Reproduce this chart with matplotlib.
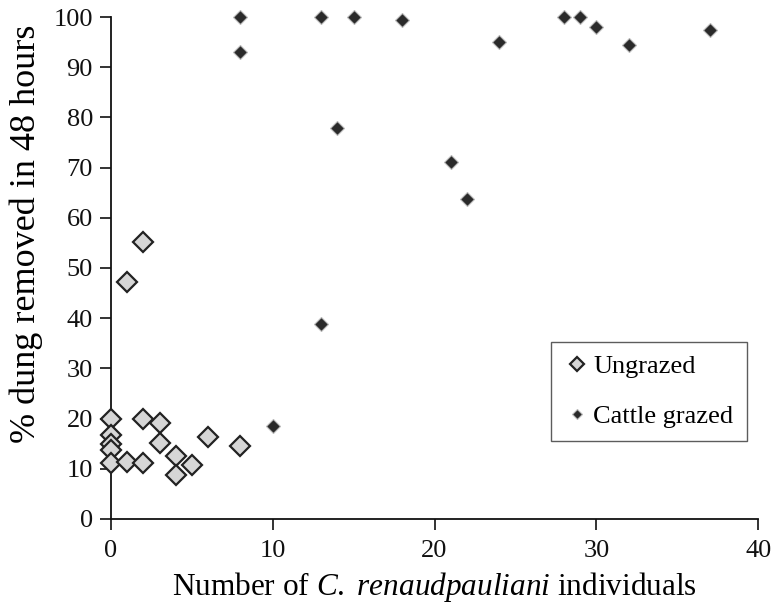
"""Dung removal vs. number of C. renaudpauliani individuals."""

import matplotlib
matplotlib.use("Agg")
import matplotlib.pyplot as plt

# Ungrazed sites
ungrazed_x = [0, 0, 0, 0, 0, 1, 1, 2, 2, 2, 3, 3, 4, 4, 5, 6, 8]
ungrazed_y = [20, 16.7, 15, 13.7, 11.1, 47.2, 11.4, 55.2, 19.9, 11.1, 19.2, 15.1, 12.5, 8.8, 10.8, 16.4, 14.5]

# Cattle grazed sites
grazed_x = [8, 8, 10, 13, 13, 14, 15, 18, 21, 22, 24, 28, 29, 30, 32, 37]
grazed_y = [100, 93, 18.6, 100, 38.8, 77.8, 100, 99.5, 71.2, 63.7, 95, 100, 100, 98, 94.5, 97.5]

plt.rcParams["font.family"] = ["Liberation Serif"]
plt.rcParams["mathtext.fontset"] = "custom"
plt.rcParams["mathtext.rm"] = "Liberation Serif"
plt.rcParams["mathtext.it"] = "Liberation Serif:italic"

fig = plt.figure(figsize=(7.76, 6.09), dpi=100)
ax = fig.add_axes([0.143, 0.148, 0.834, 0.824])

ax.plot(ungrazed_x, ungrazed_y, linestyle="none", marker="D", markersize=10,
        markerfacecolor="#d6d6d6", markeredgecolor="#222222", markeredgewidth=1.6,
        label="Ungrazed", clip_on=False, zorder=3)
ax.plot(grazed_x, grazed_y, linestyle="none", marker="D", markersize=7,
        markerfacecolor="#2a2a2a", markeredgecolor="#bbbbbb", markeredgewidth=0.8,
        label="Cattle grazed", clip_on=False, zorder=4)

ax.set_xlim(0, 40)
ax.set_ylim(0, 100)
ax.set_xticks([0, 10, 20, 30, 40])
ax.set_yticks(range(0, 101, 10))
ax.tick_params(labelsize=19, direction="out", length=8, width=1.2, colors="#111111")
ax.tick_params(axis="y", pad=5)
ax.tick_params(axis="x", pad=7)
for side in ("top", "right"):
    ax.spines[side].set_visible(False)
for side in ("left", "bottom"):
    ax.spines[side].set_linewidth(1.3)
    ax.spines[side].set_color("#111111")

ax.set_ylabel("% dung removed in 48 hours", fontsize=26)
ax.yaxis.set_label_coords(-0.105, 0.568)
ax.set_xlabel(r"Number of $\it{C.\ renaudpauliani}$ individuals", fontsize=22.5, labelpad=6)

leg = ax.legend(loc="upper left", bbox_to_anchor=(0.68, 0.353), fontsize=19,
                frameon=True, fancybox=False, handletextpad=0.1, borderpad=0.5,
                labelspacing=1.0, markerscale=0.7, handlelength=1.0,
                borderaxespad=0.0)
leg.get_frame().set_edgecolor("#333333")
leg.get_frame().set_linewidth(1.0)

fig.savefig("out.png", dpi=100)
